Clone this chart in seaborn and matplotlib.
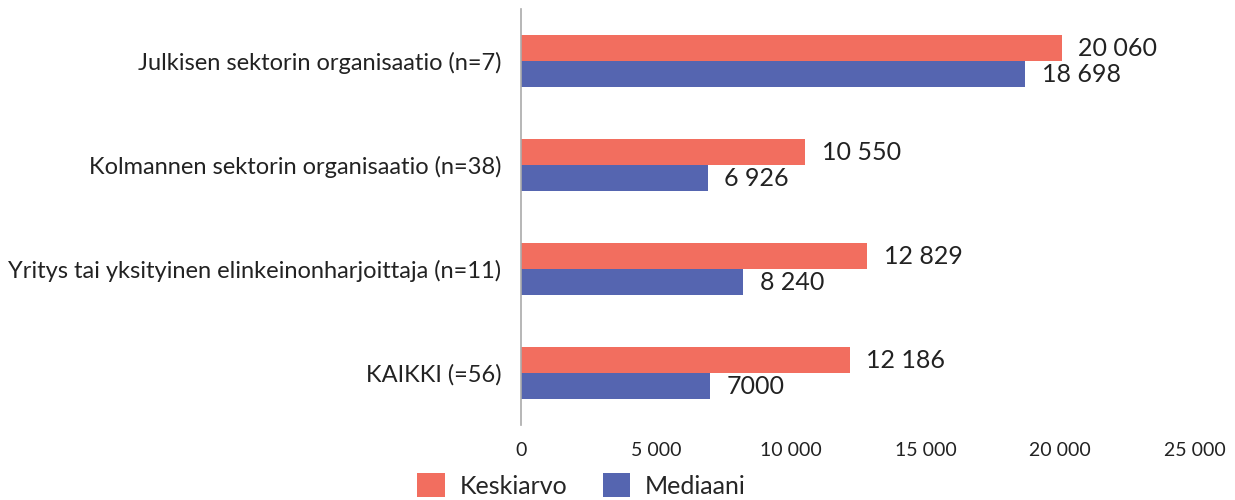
import pandas as pd
import seaborn as sns
import matplotlib.pyplot as plt

# Data
categories = [
    "Julkisen sektorin organisaatio (n=7)",
    "Kolmannen sektorin organisaatio (n=38)",
    "Yritys tai yksityinen elinkeinonharjoittaja (n=11)",
    "KAIKKI (=56)",
]
keskiarvo = [20060, 10550, 12829, 12186]
mediaani = [18698, 6926, 8240, 7000]
keskiarvo_labels = ["20 060", "10 550", "12 829", "12 186"]
mediaani_labels = ["18 698", "6 926", "8 240", "7000"]
x_ticks = [0, 5000, 10000, 15000, 20000, 25000]
x_tick_labels = ["0", "5 000", "10 000", "15 000", "20 000", "25 000"]

df = pd.DataFrame({
    "ryhma": categories * 2,
    "sarja": ["Keskiarvo"] * len(categories) + ["Mediaani"] * len(categories),
    "arvo": keskiarvo + mediaani,
})

sns.set_style("white")
plt.rcParams["font.family"] = ["Lato", "DejaVu Sans"]

fig = plt.figure(figsize=(12.35, 5), dpi=100)
ax = fig.add_axes([0.4219, 0.15, 0.5457, 0.832])

sns.barplot(data=df, y="ryhma", x="arvo", hue="sarja", orient="h",
            palette=["#F26E5F", "#5565B0"], saturation=1, width=0.5,
            linewidth=0, ax=ax)

for cont, labs in zip(ax.containers, [keskiarvo_labels, mediaani_labels]):
    ax.bar_label(cont, labels=labs, padding=12, fontsize=18, color="#222222")

ax.set_xlim(0, 25000)
ax.set_xticks(x_ticks)
ax.set_xticklabels(x_tick_labels, fontsize=14, color="#222222")
ax.tick_params(axis="y", labelsize=17, colors="#222222", length=0, pad=14)
ax.tick_params(axis="x", length=0, pad=12)
ax.set_xlabel("")
ax.set_ylabel("")

for side in ["top", "right", "bottom"]:
    ax.spines[side].set_visible(False)
ax.spines["left"].set_color("#AAAAAA")
ax.spines["left"].set_linewidth(1.2)

ax.legend(loc="center", bbox_to_anchor=(0.09, -0.145), ncol=2, frameon=False,
          fontsize=18, handlelength=1.1, handleheight=1.1, columnspacing=1.4,
          handletextpad=0.6, borderpad=0.2)

plt.savefig("out.png", dpi=100)
plt.close()
